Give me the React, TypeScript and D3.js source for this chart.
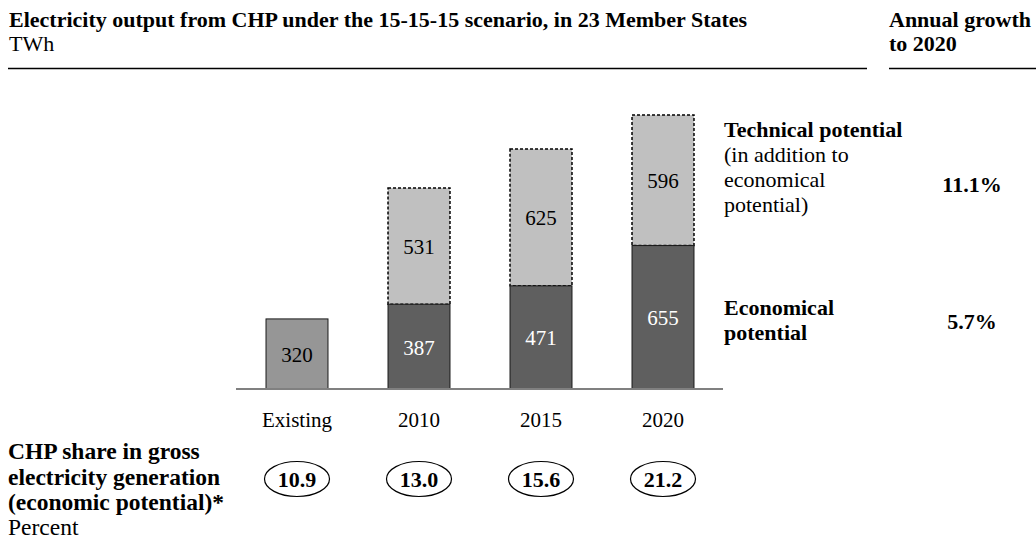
import React from "react";
import * as d3 from "d3";

const categories = ["Existing", "2010", "2015", "2020"];
const economical = [320, 387, 471, 655];
const technical = [0, 531, 625, 596];
const shares = ["10.9", "13.0", "15.6", "21.2"];
const growthTechnical = "11.1%";
const growthEconomical = "5.7%";

const W = 1036;
const H = 541;
const SERIF = "'Liberation Serif', 'Times New Roman', Times, serif";

export default function App() {
  const x = d3
    .scaleBand<string>()
    .domain(categories)
    .range([236, 724])
    .paddingInner(0.492)
    .paddingOuter(0.246);
  const y = d3.scaleLinear().domain([0, 1000]).range([389, 170]);
  const bw = x.bandwidth();

  return (
    <svg
      width={W}
      height={H}
      style={{ position: "absolute", left: 0, top: 0, background: "#fff" }}
      fontFamily={SERIF}
    >
      {/* header */}
      <text x={9} y={27} fontSize={22} fontWeight="bold" fill="#000">
        Electricity output from CHP under the 15-15-15 scenario, in 23 Member States
      </text>
      <text x={9} y={51} fontSize={22} fill="#000">
        TWh
      </text>
      <line x1={8} x2={867} y1={68.5} y2={68.5} stroke="#000" strokeWidth={1.5} />
      <text x={889} y={27} fontSize={22} fontWeight="bold" fill="#000">
        Annual growth
      </text>
      <text x={889} y={51} fontSize={22} fontWeight="bold" fill="#000">
        to 2020
      </text>
      <line x1={889} x2={1036} y1={68.5} y2={68.5} stroke="#000" strokeWidth={1.5} />

      {/* bars */}
      {categories.map((c, i) => {
        const x0 = x(c)!;
        const eTop = y(economical[i]);
        const tTop = y(economical[i] + technical[i]);
        const isExisting = i === 0;
        return (
          <g key={c}>
            {technical[i] > 0 && (
              <rect
                x={x0}
                y={tTop}
                width={bw}
                height={eTop - tTop}
                fill="#C0C0C0"
                stroke="#000"
                strokeWidth={1.5}
                strokeDasharray="3,2"
              />
            )}
            <rect
              x={x0}
              y={eTop}
              width={bw}
              height={y(0) - eTop}
              fill={isExisting ? "#969696" : "#5F5F5F"}
              stroke="#1a1a1a"
              strokeWidth={1}
            />
            <text
              x={x0 + bw / 2}
              y={(eTop + y(0)) / 2 + 8}
              textAnchor="middle"
              fontSize={21}
              fill={isExisting ? "#000" : "#fff"}
            >
              {economical[i]}
            </text>
            {technical[i] > 0 && (
              <text
                x={x0 + bw / 2}
                y={(tTop + eTop) / 2 + 8}
                textAnchor="middle"
                fontSize={21}
                fill="#000"
              >
                {technical[i]}
              </text>
            )}
            <text x={x0 + bw / 2} y={427} textAnchor="middle" fontSize={21} fill="#000">
              {c}
            </text>
            <ellipse
              cx={x0 + bw / 2}
              cy={479}
              rx={32.5}
              ry={17.5}
              fill="#fff"
              stroke="#000"
              strokeWidth={1.2}
            />
            <text
              x={x0 + bw / 2}
              y={487}
              textAnchor="middle"
              fontSize={22}
              fontWeight="bold"
              fill="#000"
            >
              {shares[i]}
            </text>
          </g>
        );
      })}
      <line x1={236} x2={723} y1={389} y2={389} stroke="#808080" strokeWidth={2} />

      {/* legend */}
      <text x={724} y={137} fontSize={22} fontWeight="bold" fill="#000">
        Technical potential
      </text>
      <text x={724} y={162} fontSize={22} fill="#000">
        (in addition to
      </text>
      <text x={724} y={187} fontSize={22} fill="#000">
        economical
      </text>
      <text x={724} y={212} fontSize={22} fill="#000">
        potential)
      </text>
      <text x={972} y={192} textAnchor="middle" fontSize={22} fontWeight="bold" fill="#000">
        {growthTechnical}
      </text>
      <text x={724} y={315} fontSize={22} fontWeight="bold" fill="#000">
        Economical
      </text>
      <text x={724} y={340} fontSize={22} fontWeight="bold" fill="#000">
        potential
      </text>
      <text x={972} y={329} textAnchor="middle" fontSize={22} fontWeight="bold" fill="#000">
        {growthEconomical}
      </text>

      {/* bottom-left */}
      <text x={8} y={459} fontSize={23.5} fontWeight="bold" fill="#000">
        CHP share in gross
      </text>
      <text x={8} y={485} fontSize={23.5} fontWeight="bold" fill="#000">
        electricity generation
      </text>
      <text x={8} y={510} fontSize={23.5} fontWeight="bold" fill="#000">
        (economic potential)*
      </text>
      <text x={8} y={535} fontSize={23.5} fill="#000">
        Percent
      </text>
    </svg>
  );
}
